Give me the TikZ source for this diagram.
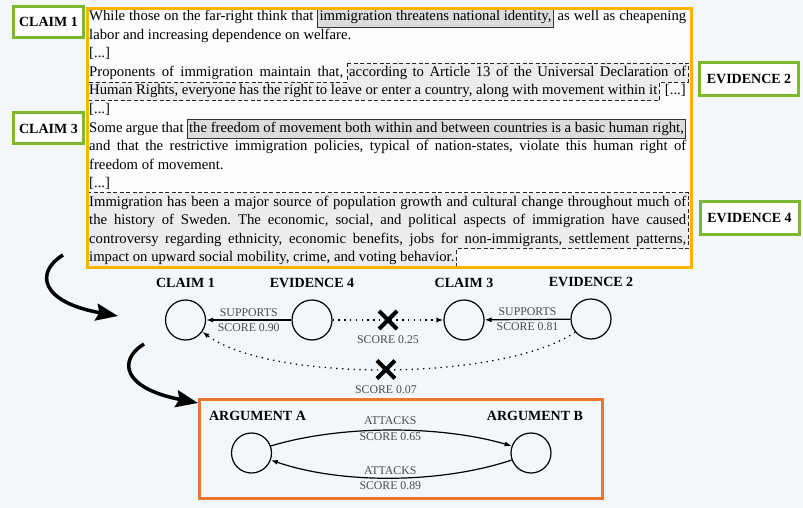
\documentclass[tikz,border=0pt]{standalone}
\usepackage{fontspec}
\setmainfont{Liberation Serif}
\usetikzlibrary{arrows.meta,positioning,shapes.misc,backgrounds}
\definecolor{pagebg}{HTML}{F3F7F9}
\definecolor{passagebg}{HTML}{FAFCFD}
\definecolor{passageorange}{HTML}{FFB300}
\definecolor{taggreen}{HTML}{7CB82F}
\definecolor{argorange}{HTML}{E9782C}
\definecolor{claimgray}{HTML}{DCDCDC}
\definecolor{evidencegray}{HTML}{ECECEC}
\definecolor{scoregray}{HTML}{4A4A4A}

\newcommand{\fullline}[1]{\hbox to 597pt{#1}}
\newcommand{\claimhl}[1]{{\setlength\fboxsep{1.5pt}\setlength\fboxrule{0.8pt}\fcolorbox{black!80}{claimgray}{\rule[-5pt]{0pt}{15pt}#1}}}
\frenchspacing

\begin{document}
\begin{tikzpicture}[
  x=1pt,y=-1pt,
  passage/.style={anchor=base west,inner xsep=0pt,inner ysep=0pt,font=\fontsize{14.7}{18.5}\selectfont,execute at begin node=\strut},
  evidence/.style={passage,inner xsep=2pt},
  evidencebox/.style={draw=black!85,fill=evidencegray,line width=0.9pt,dash pattern=on 4pt off 2.5pt},
  tagbox/.style={draw=taggreen,line width=3pt,fill=white,inner sep=0pt,font=\fontsize{14}{16}\selectfont\bfseries},
  argnode/.style={circle,draw,line width=1.2pt,minimum size=40pt,inner sep=0pt},
  nodetitle/.style={font=\fontsize{14}{16}\selectfont\bfseries,label distance=8pt},
  edgelabel/.style={font=\fontsize{11.8}{13}\selectfont,text=scoregray,inner sep=3pt},
  supportarrow/.style={-{Latex[length=7pt,width=5pt]},line width=1.2pt},
  dottedarrow/.style={-{Latex[length=7pt,width=5pt]},line width=1.3pt,dash pattern=on 1.3pt off 4.5pt},
  xmark/.style={cross out,draw,solid,line width=4pt,minimum size=14pt,inner sep=0pt},
  flowarrow/.style={-{Stealth[length=22pt,width=17pt,inset=3pt]},line width=3.5pt}
]
\useasboundingbox (0,0) rectangle (803,508);
\begin{scope}[on background layer]
\fill[pagebg] (0,0) rectangle (803,508);
\fill[passagebg] (86,7) rectangle (690,266);
\end{scope}

% passage, line by line
\node[passage] (line1) at (89,21) {\fullline{While those on the far-right think that \claimhl{immigration threatens national identity,} as well as cheapening}};
\node[passage] (line2) at (89,39.5) {labor and increasing dependence on welfare.};
\node[passage] (line3) at (89,58) {[...]};
\node[passage] (line4) at (89,76.5) {\hbox to 254pt{Proponents of immigration maintain that,}};
\node[evidence] (ev2a) at (347,76.5) {\hbox to 337pt{according to Article 13 of the Universal Declaration of}};
\node[evidence] (ev2b) at (87,95) {Human Rights, everyone has the right to leave or enter a country, along with movement within it};
\node[passage,anchor=base east] (line5) at (686,95) {[...]};
\node[passage] (line6) at (89,113.5) {[...]};
\node[passage] (line7) at (89,132) {\fullline{Some argue that \claimhl{the freedom of movement both within and between countries is a basic human right,}}};
\node[passage] (line8) at (89,150.5) {\fullline{and that the restrictive immigration policies, typical of nation-states, violate this human right of}};
\node[passage] (line9) at (89,169) {freedom of movement.};
\node[passage] (line10) at (89,187.5) {[...]};
\node[evidence] (ev4a) at (87,206) {\fullline{Immigration has been a major source of population growth and cultural change throughout much of}};
\node[evidence] (ev4b) at (87,224.5) {\fullline{the history of Sweden. The economic, social, and political aspects of immigration have caused}};
\node[evidence] (ev4c) at (87,243) {\fullline{controversy regarding ethnicity, economic benefits, jobs for non-immigrants, settlement patterns,}};
\node[evidence] (ev4d) at (87,261.5) {impact on upward social mobility, crime, and voting behavior.};

\begin{scope}[on background layer]
\draw[evidencebox] (ev2a.north west) -- (ev2a.north east) -- (ev2a.south east) -- (ev2a.south east -| ev2b.east) -- (ev2b.south east) -- (ev2b.south west) -- (ev2b.south west |- ev2a.south) -- (ev2a.south west) -- cycle;
\draw[evidencebox] (ev4a.north west) -- (ev4a.north east) -- (ev4c.south east) -- (ev4c.south east -| ev4d.east) -- (ev4d.south east) -- (ev4d.south west) -- cycle;
\end{scope}

\node[draw=passageorange,line width=3pt,minimum width=604pt,minimum height=259pt,anchor=north west,inner sep=0pt] (passage) at (86,7) {};

% tags
\node[tagbox,minimum width=70pt,minimum height=31pt] (tagclaim1) at (48.5,22) {CLAIM 1};
\node[tagbox,minimum width=70pt,minimum height=31pt] (tagclaim3) at (48.5,128.5) {CLAIM 3};
\node[tagbox,minimum width=99pt,minimum height=33pt] (tagevid2) at (749,79) {EVIDENCE 2};
\node[tagbox,minimum width=99pt,minimum height=33pt] (tagevid4) at (749.5,218) {EVIDENCE 4};

% argument graph
\node[argnode,label={[nodetitle]above:CLAIM 1}] (claim1) at (185.5,320) {};
\node[argnode,label={[nodetitle]above:EVIDENCE 4}] (evid4) at (312,320) {};
\node[argnode,label={[nodetitle]above:CLAIM 3}] (claim3) at (464,320) {};
\node[argnode,label={[nodetitle]above:EVIDENCE 2}] (evid2) at (591,319) {};

\draw[supportarrow] (evid4) -- node[edgelabel,above]{SUPPORTS} node[edgelabel,below]{SCORE 0.90} (claim1);
\draw[supportarrow] (evid2) -- node[edgelabel,above]{SUPPORTS} node[edgelabel,below]{SCORE 0.81} (claim3);
\draw[dottedarrow] (evid4) -- node[xmark,label={[edgelabel,label distance=3pt]below:SCORE 0.25}]{} (claim3);
\draw[dottedarrow] (evid2.220) .. controls (500,382) and (270,382) .. node[xmark,label={[edgelabel,label distance=3pt]below:SCORE 0.07}]{} (claim1.-35);

% arguments
\node[draw=argorange,line width=3pt,minimum width=403pt,minimum height=99pt,anchor=north west,inner sep=0pt] (argframe) at (198,398) {};
\node[argnode,label={[nodetitle,xshift=6pt]above:ARGUMENT A}] (argA) at (251.5,453) {};
\node[argnode,label={[nodetitle,xshift=4pt]above:ARGUMENT B}] (argB) at (531,453) {};
\draw[supportarrow] (argA.20) .. controls (340,425) and (440,425) .. node[edgelabel,above=2pt]{ATTACKS} node[edgelabel,below,inner sep=1.5pt]{SCORE 0.65} (argB.160);
\draw[supportarrow] (argB.200) .. controls (440,484) and (340,484) .. node[edgelabel,above]{ATTACKS} node[edgelabel,below]{SCORE 0.89} (argA.-20);

% flow arrows
\coordinate (flow1start) at (63,255);
\coordinate (flow1end) at (118,316);
\coordinate (flow2start) at (144,344);
\coordinate (flow2end) at (198,403);
\draw[flowarrow] (flow1start) .. controls (35,272) and (40,302) .. (flow1end);
\draw[flowarrow] (flow2start) .. controls (118,360) and (122,388) .. (flow2end);
\end{tikzpicture}
\end{document}
